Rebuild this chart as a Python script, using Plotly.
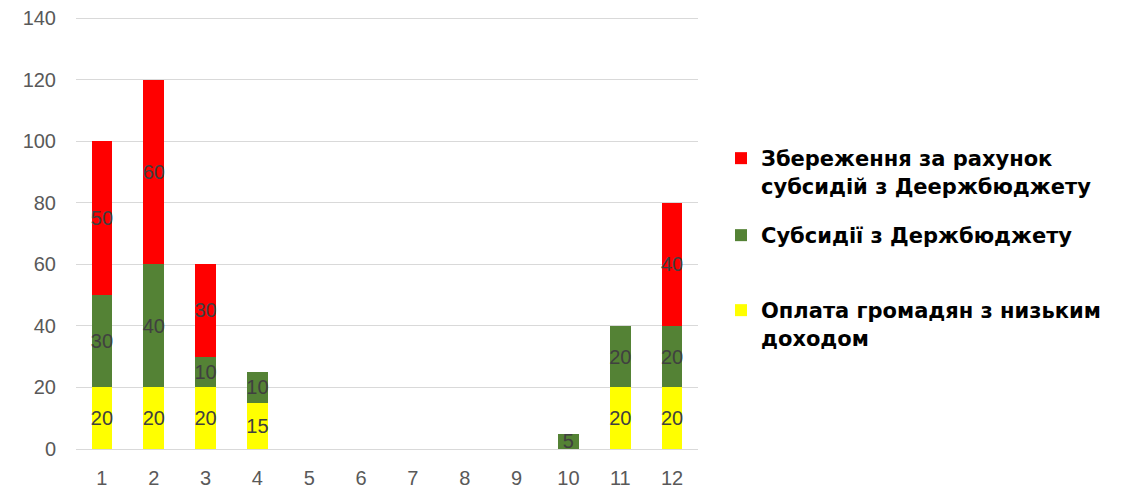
import plotly.graph_objects as go

categories = [str(i) for i in range(1, 13)]
low_income = [20, 20, 20, 15, None, None, None, None, None, None, 20, 20]
subsidies = [30, 40, 10, 10, None, None, None, None, None, 5, 20, 20]
savings = [50, 60, 30, None, None, None, None, None, None, None, None, 40]

names = [
    "Оплата громадян з низьким<br>доходом",
    "Субсидії з Держбюджету",
    "Збереження за рахунок<br>субсидій з Деержбюджету",
]
colors = ["#FFFF00", "#548235", "#FF0000"]
series = [low_income, subsidies, savings]
legend_ids = ["legend4", "legend3", "legend2"]

fig = go.Figure()
for name, vals, col, lg in zip(names, series, colors, legend_ids):
    fig.add_trace(go.Bar(
        x=categories, y=vals, name=name, marker_color=col,
        marker_line_width=0,
        text=[("" if v is None else str(v)) for v in vals],
        textposition="inside", insidetextanchor="middle", textangle=0,
        textfont=dict(family="Liberation Sans", size=20, color="#404040"),
        legend=lg,
    ))

legend_font = dict(family="DejaVu Sans", size=21, color="black", weight="bold")
common = dict(xref="paper", yref="paper", xanchor="left", yanchor="top",
              valign="top", font=legend_font, bgcolor="rgba(0,0,0,0)",
              itemclick=False, itemdoubleclick=False)

# page body has an 8px offset
OFF = 8
W, H = 1127 - OFF, 491 - OFF
PL, PR, PT, PB = 76 - OFF, 698 - OFF, 17 - OFF, 449 - OFF
def px_x(x):
    return (x - OFF - PL) / (PR - PL)
def px_y(y):
    return (PB - (y - OFF)) / (PB - PT)

fig.update_layout(
    barmode="stack",
    bargap=0.6,
    width=W, height=H,
    margin=dict(l=PL, r=W - PR, t=PT, b=H - PB, autoexpand=False),
    plot_bgcolor="white", paper_bgcolor="white",
    uniformtext=dict(minsize=20, mode="show"),
    showlegend=True,
    legend2=dict(x=px_x(721), y=px_y(138), **common),
    legend3=dict(x=px_x(721), y=px_y(215), **common),
    legend4=dict(x=px_x(721), y=px_y(290), **common),
    xaxis=dict(type="category", showgrid=False, showline=False, ticks="",
               tickfont=dict(family="Liberation Sans", size=20, color="#595959"),
               ticklabelstandoff=15, automargin=False),
    yaxis=dict(range=[0, 140.35], tickvals=[0, 20, 40, 60, 80, 100, 120, 140],
               showgrid=True, gridcolor="#D9D9D9",
               gridwidth=1, zeroline=True, zerolinecolor="#D9D9D9", zerolinewidth=1,
               showline=False, ticks="", ticklabeloverflow="allow",
               tickfont=dict(family="Liberation Sans", size=20, color="#595959"),
               ticklabelstandoff=19, automargin=False),
)

fig.write_html("out.html")
